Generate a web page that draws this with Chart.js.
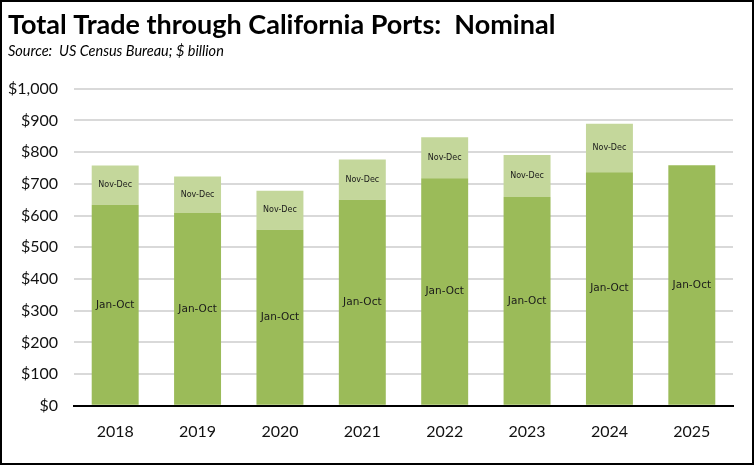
<!DOCTYPE html>
<html>
<head>
<meta charset="utf-8">
<script src="https://cdn.jsdelivr.net/npm/chart.js@4.4.1/dist/chart.umd.min.js"></script>
<style>
  html, body { margin: 0; padding: 0; background: #fff; }
  #frame { width: 754px; height: 465px; box-sizing: border-box; border: 2px solid #000; position: relative; }
  #frame canvas { display: block; }
</style>
</head>
<body>
<div id="frame"><canvas id="chart" width="750" height="461"></canvas></div>
<script>
// values, $ billion
var years = ['2018', '2019', '2020', '2021', '2022', '2023', '2024', '2025'];
var janOct = [634, 608, 555, 650, 718, 659, 737, 759];
var novDec = [124, 115, 123, 127, 129, 132, 153, null];
var segmentNames = ['Jan-Oct', 'Nov-Dec'];
var yTicks = [0, 100, 200, 300, 400, 500, 600, 700, 800, 900, 1000];

// writes the segment name in the middle of each bar piece
var segmentLabels = {
  id: 'segmentLabels',
  afterDatasetsDraw: function(chart) {
    var ctx = chart.ctx;
    ctx.save();
    ctx.textAlign = 'center';
    ctx.textBaseline = 'middle';
    ctx.fillStyle = '#1a1a1a';
    chart.data.datasets.forEach(function(ds, di) {
      var meta = chart.getDatasetMeta(di);
      ctx.font = ds.labelFont;
      meta.data.forEach(function(bar, i) {
        if (ds.data[i] == null) return;
        var p = bar.getProps(['x', 'y', 'base'], true);
        ctx.fillText(ds.label, p.x, (p.y + p.base) / 2);
      });
    });
    ctx.restore();
  }
};

new Chart(document.getElementById('chart'), {
  type: 'bar',
  data: {
    labels: years,
    datasets: [
      { label: segmentNames[0], data: janOct, backgroundColor: '#9BBB59',
        labelFont: '10.5px "DejaVu Sans"' },
      { label: segmentNames[1], data: novDec, backgroundColor: '#C4D79B',
        labelFont: '8px "DejaVu Sans"' }
    ]
  },
  options: {
    responsive: false,
    animation: false,
    events: [],
    categoryPercentage: 1,
    barPercentage: 0.57,
    layout: { padding: { left: 6, right: 19, top: 0, bottom: 6 } },
    plugins: {
      legend: { display: false },
      tooltip: { enabled: false },
      title: {
        display: true,
        text: 'Total Trade through California Ports:  Nominal',
        align: 'start',
        color: '#000',
        font: { family: 'Lato', size: 27, weight: 'bold' },
        padding: { top: 7, bottom: 0 }
      },
      subtitle: {
        display: true,
        text: 'Source:  US Census Bureau; $ billion',
        align: 'start',
        color: '#000',
        font: { family: 'Lato', size: 14.5, style: 'italic' },
        padding: { top: 1, bottom: 29 }
      }
    },
    scales: {
      x: {
        stacked: true,
        grid: { display: false, drawTicks: false },
        border: { display: true, color: '#000', width: 2 },
        ticks: { color: '#111', padding: 16, font: { family: 'Lato', size: 16 } }
      },
      y: {
        stacked: true,
        min: 0,
        max: 1000,
        afterBuildTicks: function(scale) {
          scale.ticks = yTicks.map(function(v) { return { value: v }; });
        },
        afterFit: function(scale) { scale.width = 66; },
        grid: { color: '#D9D9D9', lineWidth: 2, drawTicks: false },
        border: { display: false },
        ticks: {
          color: '#111',
          padding: 16,
          font: { family: 'Lato', size: 16 },
          callback: function(v) { return '$' + v.toLocaleString('en-US'); }
        }
      }
    }
  },
  plugins: [segmentLabels]
});
</script>
</body>
</html>
